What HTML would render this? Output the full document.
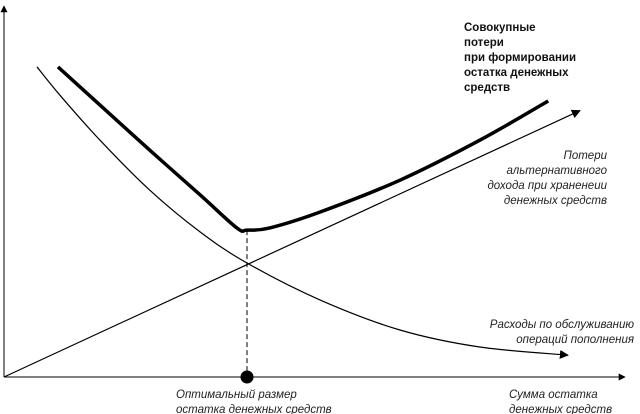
<!DOCTYPE html>
<html><head><meta charset="utf-8"><style>
html,body{margin:0;padding:0;background:#fff;}
svg{display:block;font-family:"Liberation Sans","DejaVu Sans",sans-serif;}
.it{font-style:italic;font-size:11.5px;fill:#222;}
.bd{font-weight:bold;font-size:11.5px;fill:#111;}
</style></head><body>
<svg id="chart" width="640" height="414" viewBox="0 0 640 414">
<defs><marker id="ah" viewBox="0 0 10 10" refX="9" refY="5" markerWidth="9" markerHeight="9" markerUnits="userSpaceOnUse" orient="auto"><path d="M0,0 L10,5 L0,10 z" fill="#000"/></marker>
<marker id="ah2" viewBox="0 0 10 10" refX="9" refY="5" markerWidth="7" markerHeight="7" markerUnits="userSpaceOnUse" orient="auto"><path d="M0,0 L10,5 L0,10 z" fill="#000"/></marker></defs>
<line x1="4" y1="377" x2="4" y2="6" stroke="#000" stroke-width="1" marker-end="url(#ah2)"/>
<line x1="4" y1="377" x2="625" y2="377" stroke="#000" stroke-width="1" marker-end="url(#ah2)"/>
<g id="series"></g>
<text class="bd" x="464" y="31">Совокупные</text>
<text class="bd" x="464" y="46">потери</text>
<text class="bd" x="464" y="61">при формировании</text>
<text class="bd" x="464" y="76">остатка денежных</text>
<text class="bd" x="464" y="91">средств</text>
<g text-anchor="end">
<text class="it" x="607" y="159">Потери</text>
<text class="it" x="607" y="174">альтернативного</text>
<text class="it" x="607" y="189">дохода при храненеии</text>
<text class="it" x="607" y="204">денежных средств</text>
</g>
<g text-anchor="end">
<text class="it" x="634" y="328">Расходы по обслуживанию</text>
<text class="it" x="634" y="343">операций пополнения</text>
</g>
<text class="it" x="176" y="398">Оптимальный размер</text>
<text class="it" x="176" y="413">остатка денежных средств</text>
<text class="it" x="509" y="398">Сумма остатка</text>
<text class="it" x="509" y="413">денежных средств</text>
</svg>
<script>
const altX = [0, 9.6];
const altY = [0, 7.2];
const servX = [0.55, 0.93, 1.6, 2.43, 3.27, 4.05, 5.27, 6.6, 7.93, 9.4];
const servY = [8.38, 7.62, 6.4, 5.05, 3.92, 3.08, 2.08, 1.27, 0.81, 0.59];
const totX = [0.9, 1.6, 2.43, 3.27, 3.88, 4.05, 4.43, 5.27, 6.6, 7.93, 9.07];
const totY = [8.38, 7.35, 6.13, 4.92, 4.03, 3.97, 4.03, 4.46, 5.32, 6.4, 7.46];
const optimumX = 4.05;
const optimumTotal = 3.97;

const sx = v => 4 + v * 60;
const sy = v => 377 - v * 37;
const NS = 'http://www.w3.org/2000/svg';
const g = document.getElementById('series');

function smooth(xs, ys) {
  const p = xs.map((x, i) => [sx(x), sy(ys[i])]);
  let d = 'M' + p[0][0] + ',' + p[0][1];
  for (let i = 0; i < p.length - 1; i++) {
    const p0 = p[Math.max(0, i - 1)], p1 = p[i], p2 = p[i + 1], p3 = p[Math.min(p.length - 1, i + 2)];
    const c1 = [p1[0] + (p2[0] - p0[0]) / 6, p1[1] + (p2[1] - p0[1]) / 6];
    const c2 = [p2[0] - (p3[0] - p1[0]) / 6, p2[1] - (p3[1] - p1[1]) / 6];
    d += ' C' + c1 + ' ' + c2 + ' ' + p2;
  }
  return d;
}
function mk(d, w, name, arrow, dash) {
  const el = document.createElementNS(NS, 'path');
  el.setAttribute('d', d);
  el.setAttribute('fill', 'none');
  el.setAttribute('stroke', '#000');
  el.setAttribute('stroke-width', w);
  if (arrow) el.setAttribute('marker-end', 'url(#ah)');
  if (dash) el.setAttribute('stroke-dasharray', dash);
  
  
  g.appendChild(el);
  return el;
}
mk('M' + sx(altX[0]) + ',' + sy(altY[0]) + ' L' + sx(altX[1]) + ',' + sy(altY[1]), 1.2, 'opportunity-cost-line', true);
mk(smooth(servX, servY), 1.2, 'transaction-cost-curve', true);
mk(smooth(totX, totY), 3.5, 'total-losses-curve', false);
mk('M' + sx(optimumX) + ',' + sy(optimumTotal) + ' L' + sx(optimumX) + ',' + sy(0), 1, 'optimum-dashed-line', false, '5,3');
const dot = document.createElementNS(NS, 'circle');
dot.setAttribute('cx', sx(optimumX));
dot.setAttribute('cy', sy(0));
dot.setAttribute('r', 6.5);
dot.setAttribute('fill', '#000');


g.appendChild(dot);
</script>
</body></html>
